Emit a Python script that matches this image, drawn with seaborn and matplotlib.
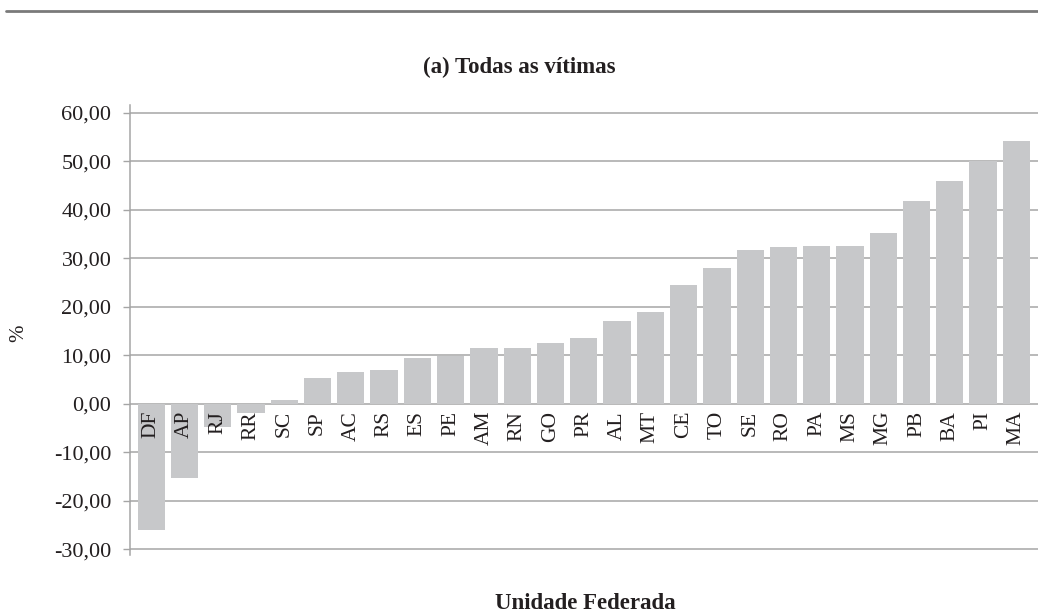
import matplotlib
matplotlib.use("Agg")
import matplotlib.pyplot as plt
import seaborn as sns
import pandas as pd
from matplotlib.lines import Line2D

# ---- data ----
ufs = ["DF", "AP", "RJ", "RR", "SC", "SP", "AC", "RS", "ES", "PE", "AM", "RN", "GO", "PR",
       "AL", "MT", "CE", "TO", "SE", "RO", "PA", "MS", "MG", "PB", "BA", "PI", "MA"]
valores = [-26.0, -15.3, -4.7, -1.8, 0.8, 5.4, 6.6, 7.0, 9.5, 9.9, 11.5, 11.5, 12.6, 13.5,
           17.2, 19.0, 24.6, 28.1, 31.8, 32.4, 32.6, 32.6, 35.3, 41.8, 45.9, 50.0, 54.2]
yticks = [-30, -20, -10, 0, 10, 20, 30, 40, 50, 60]
ytick_labels = ["-30,00", "-20,00", "-10,00", "0,00", "10,00", "20,00", "30,00", "40,00", "50,00", "60,00"]
titulo = "(a) Todas as vítimas"
xlabel = "Unidade Federada"
ylabel = "%"

sns.set_theme(style="white")
plt.rcParams['font.family'] = ['Liberation Serif', 'DejaVu Serif']
txt_color = "#231f20"

fig = plt.figure(figsize=(10.38, 6.15), dpi=100)
ax = fig.add_axes([0.1248, 0.0971, 0.8752, 0.7322])

df = pd.DataFrame({"uf": ufs, "valor": valores})
sns.barplot(data=df, x="uf", y="valor", order=ufs, color="#c7c8ca", saturation=1,
            width=0.82, ax=ax, zorder=3, errorbar=None, linewidth=0)

ax.set_xlim(-0.65, len(ufs) - 0.35)
ax.set_ylim(-31.2, 61.65)
ax.set_yticks(yticks)
ax.set_yticklabels(ytick_labels, fontsize=16, color=txt_color)
ax.tick_params(axis="y", length=5, width=1, color="#a5a5a5", pad=8, direction="out", left=True)
ax.set_xticks([])
ax.set_xlabel("")
ax.set_ylabel("")
for y in yticks:
    ax.axhline(y, color="#a5a5a5", lw=1.1, zorder=1)

for s in ["top", "right", "bottom"]:
    ax.spines[s].set_visible(False)
ax.spines["left"].set_color("#a5a5a5")
ax.spines["left"].set_linewidth(1.1)

for i, u in enumerate(ufs):
    ax.annotate(u, xy=(i, 0), xytext=(0, -5), textcoords="offset points",
                rotation=90, ha="center", va="top", fontsize=15.5, color=txt_color, zorder=4)

fig.text(0.5, 0.891, titulo, ha="center", va="center", fontsize=16.5,
         fontweight="bold", color=txt_color)
fig.text(0.5636, 0.0195, xlabel, ha="center", va="center", fontsize=16.5,
         fontweight="bold", color=txt_color)
fig.text(0.0183, 0.4585, ylabel, ha="center", va="center", rotation=90, fontsize=15,
         color=txt_color)

fig.add_artist(Line2D([0.006, 1.0], [0.982, 0.982], color="#7a7a7a", lw=2.0,
                      transform=fig.transFigure))

fig.savefig("out.png", dpi=100)
